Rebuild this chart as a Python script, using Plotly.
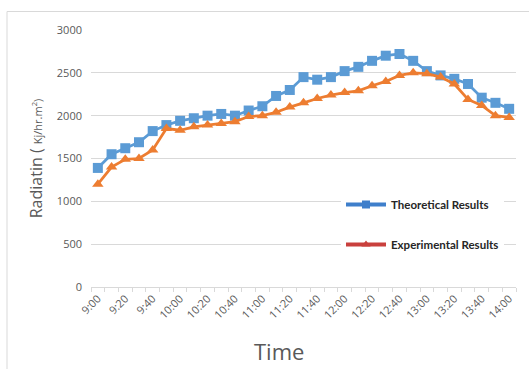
import plotly.graph_objects as go

# ---- data ----
times = ["9:00", "9:10", "9:20", "9:30", "9:40", "9:50", "10:00", "10:10", "10:20", "10:30",
         "10:40", "10:50", "11:00", "11:10", "11:20", "11:30", "11:40", "11:50", "12:00", "12:10",
         "12:20", "12:30", "12:40", "12:50", "13:00", "13:10", "13:20", "13:30", "13:40", "13:50", "14:00"]
theoretical = [1390, 1550, 1620, 1690, 1820, 1890, 1940, 1970, 2000, 2020,
               2000, 2060, 2110, 2230, 2300, 2450, 2420, 2450, 2520, 2570,
               2640, 2700, 2720, 2640, 2520, 2470, 2430, 2370, 2210, 2150, 2080]
experimental = [1200, 1400, 1490, 1500, 1600, 1850, 1830, 1870, 1890, 1910,
                1930, 1990, 2000, 2040, 2100, 2150, 2200, 2240, 2270, 2290,
                2350, 2400, 2470, 2500, 2490, 2450, 2370, 2190, 2120, 2000, 1980]
tick_labels = [t if i % 2 == 0 else " " for i, t in enumerate(times)]
y_ticks = [0, 500, 1000, 1500, 2000, 2500, 3000]

W, H = 529, 369
L, R, T, B = 91, 13, 30, 82
PW, PH = W - L - R, H - T - B

def px_x(x):
    return (x - L) / PW

def px_y(y):
    return (H - B - y) / PH

BLUE = "#5b9bd5"
ORANGE = "#ed7d31"
GRID = "#d9d9d9"
TXT = "#595959"

fig = go.Figure()
fig.add_trace(go.Scatter(x=times, y=theoretical, mode="lines+markers", showlegend=False,
                         line=dict(color=BLUE, width=2.75),
                         marker=dict(symbol="square", size=10, color=BLUE)))
fig.add_trace(go.Scatter(x=times, y=experimental, mode="lines+markers", showlegend=False,
                         line=dict(color=ORANGE, width=2.75),
                         marker=dict(symbol="triangle-up", size=10, color=ORANGE)))
# legend entries
fig.add_trace(go.Scatter(x=[None], y=[None], mode="lines+markers", name="Theoretical Results",
                         legendgroup="a",
                         line=dict(color="#3f7fcb", width=4),
                         marker=dict(symbol="square", size=8, color="#3f7fcb")))
fig.add_trace(go.Scatter(x=[None], y=[None], mode="lines+markers", name="Experimental Results",
                         legendgroup="b",
                         line=dict(color="#c9403d", width=4),
                         marker=dict(symbol="triangle-up", size=8, color="#c9403d")))

fig.update_layout(
    width=W, height=H,
    margin=dict(l=L, r=R, t=T, b=B),
    paper_bgcolor="white", plot_bgcolor="white",
    font=dict(family="Open Sans, sans-serif", color=TXT),
    legend=dict(x=px_x(341), y=px_y(190), xanchor="left", yanchor="top",
                bgcolor="white", borderwidth=0, tracegroupgap=21, itemwidth=40,
                font=dict(family="Lato, sans-serif",
                          size=11.5, color="#262626", weight="bold")),
    xaxis=dict(type="category", categoryorder="array", categoryarray=times,
               tickmode="array", tickvals=times, ticktext=tick_labels,
               tickangle=-45, tickfont=dict(size=11, color=TXT),
               ticks="outside", tickson="boundaries", ticklen=4, tickcolor=GRID,
               showline=True, linecolor=GRID, linewidth=1, showgrid=False,
               range=[-0.5, len(times) - 0.5]),
    yaxis=dict(range=[0, 3000], tickmode="array", tickvals=y_ticks,
               tickfont=dict(size=11, color=TXT), showgrid=True, gridcolor=GRID, gridwidth=1,
               zeroline=False, showline=False, ticks="", ticklabelstandoff=8,
               title=dict(text="Radiatin ( <span style='font-size:11px'>Kj/hr.m<sup>2</sup>)</span>",
                          font=dict(size=16, color=TXT), standoff=10)),
    annotations=[dict(text="Time", x=px_x(279), y=px_y(368), xref="paper", yref="paper",
                      xanchor="center", yanchor="bottom", showarrow=False,
                      font=dict(size=22, color=TXT))],
    shapes=[dict(type="rect", xref="paper", yref="paper",
                 x0=px_x(7), x1=px_x(545), y0=px_y(385), y1=px_y(11.5),
                 line=dict(color=GRID, width=1), fillcolor="rgba(0,0,0,0)", layer="below")],
)

fig.write_html("out.html")
